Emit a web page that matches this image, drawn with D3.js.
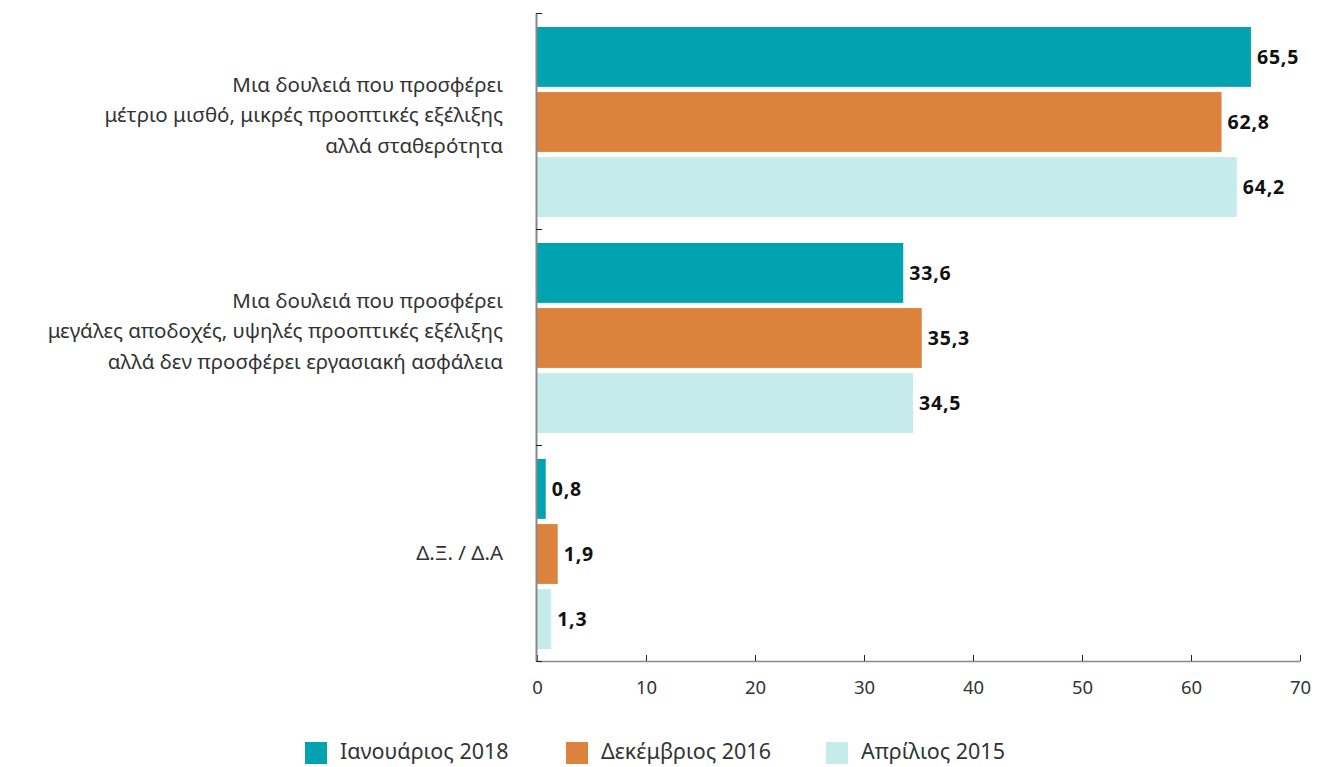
<!DOCTYPE html>
<html><head><meta charset="utf-8">
<script src="https://cdn.jsdelivr.net/npm/d3@7"></script>
<style>
body{margin:0;background:#fff;}
text{font-family:"Noto Sans",sans-serif;}
</style></head>
<body><svg id="c" width="1320" height="767"></svg>
<script>
const categories = [
  ["Μια δουλειά που προσφέρει","μέτριο μισθό, μικρές προοπτικές εξέλιξης","αλλά σταθερότητα"],
  ["Μια δουλειά που προσφέρει","μεγάλες αποδοχές, υψηλές προοπτικές εξέλιξης","αλλά δεν προσφέρει εργασιακή ασφάλεια"],
  ["Δ.Ξ. / Δ.Α"]
];
const series = ["Ιανουάριος 2018","Δεκέμβριος 2016","Απρίλιος 2015"];
const jan2018 = [65.5, 33.6, 0.8];
const dec2016 = [62.8, 35.3, 1.9];
const apr2015 = [64.2, 34.5, 1.3];
const xTicks = [0,10,20,30,40,50,60,70];
const colors = ["#00A3AF","#DC823C","#C6EBEB"];

const values = [jan2018, dec2016, apr2015];
const svg = d3.select("#c");
const catIdx = categories.map((d,i)=>i);
const x = d3.scaleLinear().domain([0,70]).range([537,1300]);
const y0 = d3.scaleBand().domain(catIdx).range([13,661]).padding(0);
const y1 = d3.scaleBand().domain(series).range([14, y0.bandwidth()-12]).paddingInner(0.08).paddingOuter(0);

// bars
const g = svg.append("g");
catIdx.forEach(ci=>{
  series.forEach((s,si)=>{
    const v = values[si][ci];
    const yy = y0(ci)+y1(s);
    g.append("rect").attr("x",x(0)).attr("y",yy).attr("width",x(v)-x(0)).attr("height",y1.bandwidth()).attr("fill",colors[si]);
    g.append("text").attr("x",x(v)+6).attr("y",yy+y1.bandwidth()/2).attr("dy","0.36em")
      .attr("font-size",19.5).attr("font-weight","bold").attr("letter-spacing",0.8).attr("fill","#111")
      .text(String(v.toFixed(1)).replace(".",","));
  });
});

// x axis
const xa = svg.append("g").attr("transform","translate(0,661)")
  .call(d3.axisBottom(x).tickValues(xTicks).tickSizeInner(-6).tickSizeOuter(0).tickPadding(20));
xa.select(".domain").attr("stroke","#888").attr("stroke-width",1.5);
xa.selectAll(".tick line").attr("stroke","#222");
xa.selectAll(".tick text").attr("font-size",18.5).attr("fill","#333").attr("font-family","'Noto Sans',sans-serif");

// y axis
const yl = d3.scaleLinear().domain([0,3]).range([13,661]);
const ya = svg.append("g").attr("transform","translate(536,0)")
  .call(d3.axisLeft(yl).tickValues([0,1,2,3]).tickSizeInner(-6).tickSizeOuter(0).tickFormat(""));
ya.select(".domain").attr("stroke","#888").attr("stroke-width",2);
ya.selectAll(".tick line").attr("stroke","#222");

// category labels
catIdx.forEach(ci=>{
  const lines = categories[ci];
  const n = lines.length;
  const cy = y0(ci)+y0.bandwidth()/2;
  const t = svg.append("text").attr("text-anchor","end").attr("font-size",20.5).attr("fill","#333");
  lines.forEach((ln,i)=>{
    t.append("tspan").attr("x",503).attr("y",cy+(i-(n-1)/2)*30.5+(n>1?1:7)).text(ln);
  });
});

// legend
const legX = [305,566,826];
series.forEach((s,i)=>{
  svg.append("rect").attr("x",legX[i]).attr("y",742).attr("width",22).attr("height",22).attr("fill",colors[i]);
  svg.append("text").attr("x",legX[i]+35).attr("y",759).attr("font-size",21.5).attr("fill","#333").text(s);
});
</script></body></html>
